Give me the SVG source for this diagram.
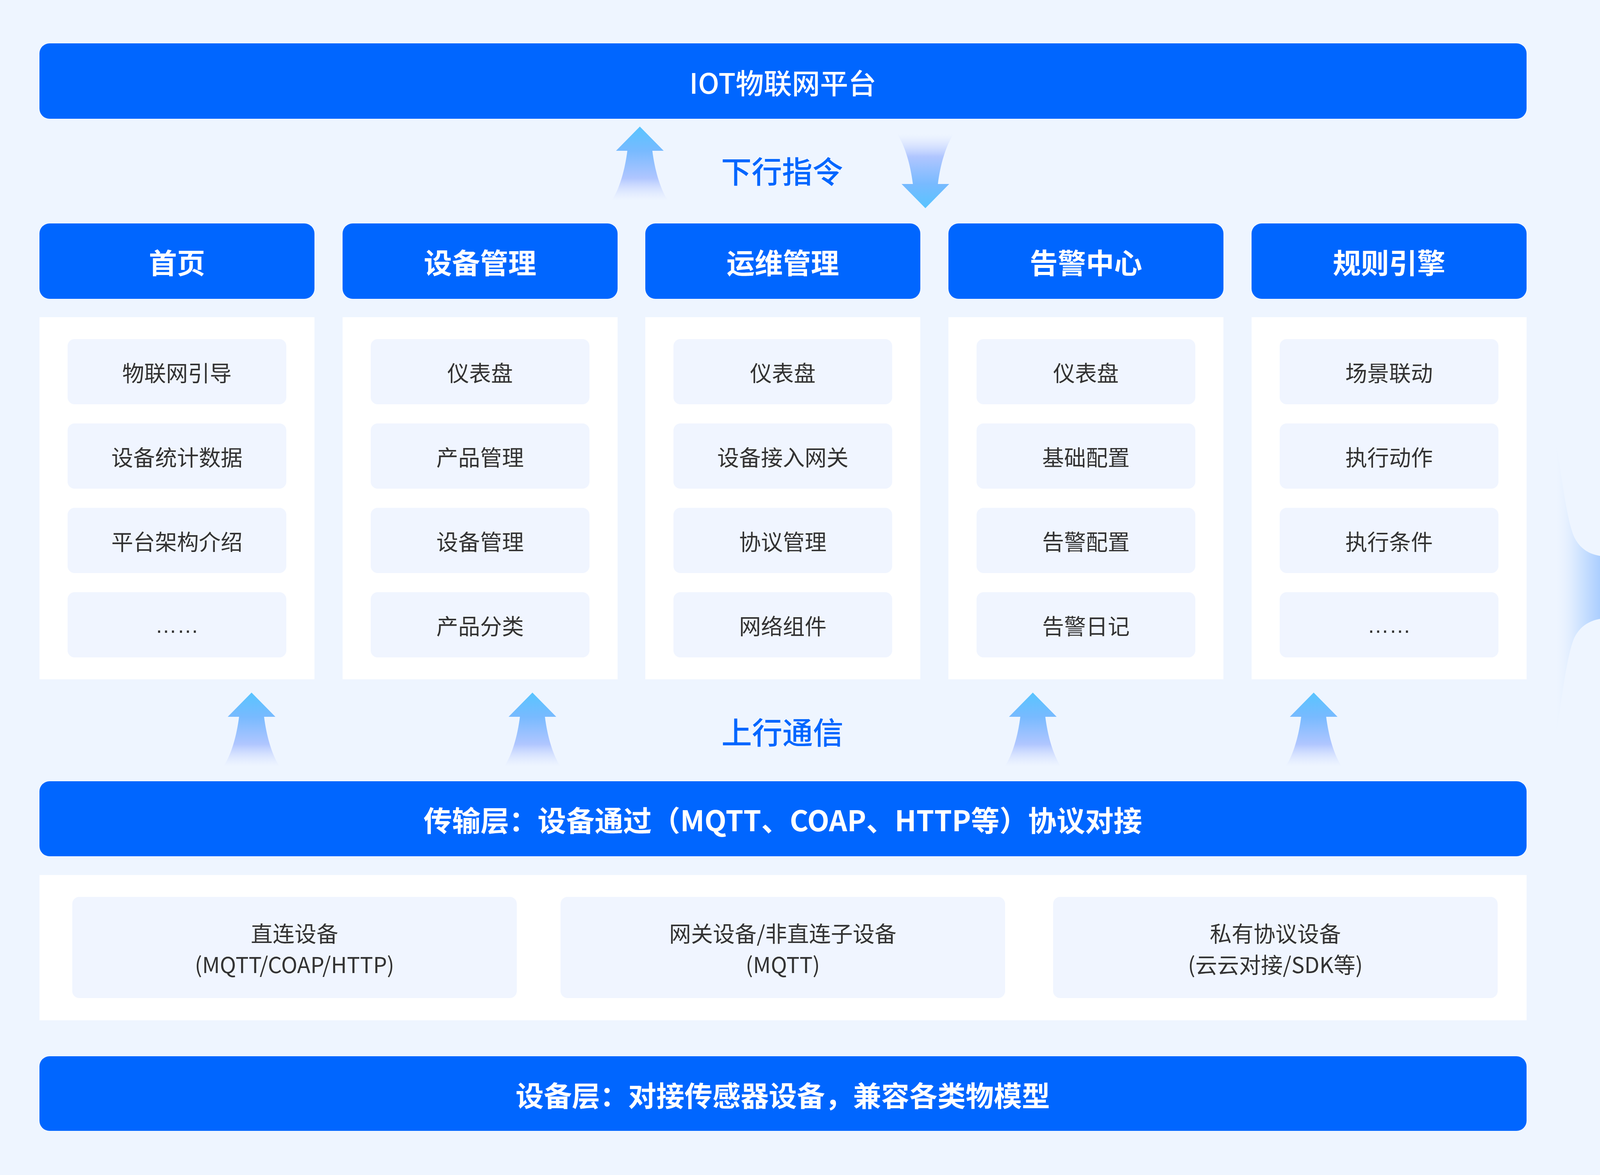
<svg xmlns="http://www.w3.org/2000/svg" xmlns:xlink="http://www.w3.org/1999/xlink" width="5124" height="3008" viewBox="0 0 5124 3008">
<defs>
<style>
.bg{fill:#EEF5FF}
.panel{fill:#FFFFFF}
.blue{fill:#0066FF}
.item{fill:#F0F5FF}
.t{font-family:"Noto Sans CJK SC","Liberation Sans",sans-serif;text-anchor:middle;dominant-baseline:central}
.hd{font-size:72px;font-weight:700;fill:#FFFFFF}
.top{font-size:72px;font-weight:500;fill:#FFFFFF}
.it{font-size:56px;font-weight:400;fill:#333333}
.dots{font-family:"Liberation Sans","Noto Sans CJK SC",sans-serif;font-size:56px;fill:#333333;text-anchor:middle}
.lbl{font-size:78px;font-weight:500;fill:#0066FF}
</style>
<linearGradient id="gUp" x1="0" y1="0" x2="0" y2="1">
<stop offset="0" stop-color="#58C4FF"/>
<stop offset="0.33" stop-color="#78BAFF"/>
<stop offset="0.7" stop-color="#B0C6FF"/>
<stop offset="1" stop-color="#D4DEFF" stop-opacity="0"/>
</linearGradient>
<linearGradient id="gRight" x1="0" y1="0" x2="1" y2="0">
<stop offset="0" stop-color="#E6F0FF" stop-opacity="0"/>
<stop offset="0.3" stop-color="#D2E5FF"/>
<stop offset="0.65" stop-color="#A2C9FF"/>
<stop offset="1" stop-color="#5AA6FF"/>
</linearGradient>
<path id="upArrow" d="M0,0 L61,62 L32,62 C38,110 52,160 72,189 L-72,189 C-52,160 -38,110 -32,62 L-61,62 Z" fill="url(#gUp)"/>
</defs>

<rect class="bg" x="0" y="0" width="5124" height="3008"/>

<g id="platform">
<rect class="blue" x="101" y="111" width="3807" height="193" rx="26"/>
<text class="t top" x="2004" y="208">IOT物联网平台</text>
</g>

<g id="connectors">
<use xlink:href="#upArrow" transform="translate(1638,324)"/>
<use xlink:href="#upArrow" transform="translate(2369,533) scale(1,-1)"/>
<use xlink:href="#upArrow" transform="translate(644,1773)"/>
<use xlink:href="#upArrow" transform="translate(1363,1773)"/>
<use xlink:href="#upArrow" transform="translate(2644,1773)"/>
<use xlink:href="#upArrow" transform="translate(3363,1773)"/>
<path d="M4114,1425 C4070,1423 4045,1405 4030,1375 C4010,1330 3995,1200 3982,1115 L3982,1900 C3995,1810 4010,1680 4030,1633 C4045,1603 4070,1585 4114,1582 L4114,1659 L4178,1504 L4114,1348 Z" fill="url(#gRight)"/>
<text class="t lbl" x="2002" y="435">下行指令</text>
<text class="t lbl" x="2003" y="1871">上行通信</text>
</g>

<g id="col-home">
<rect class="blue" x="101" y="572" width="704" height="193" rx="26"/>
<text class="t hd" x="453" y="668">首页</text>
<rect class="panel" x="101" y="812" width="704" height="927"/>
<rect class="item" x="173" y="868" width="560" height="167" rx="18"/>
<text class="t it" x="453" y="951">物联网引导</text>
<rect class="item" x="173" y="1084" width="560" height="167" rx="18"/>
<text class="t it" x="453" y="1167">设备统计数据</text>
<rect class="item" x="173" y="1300" width="560" height="167" rx="18"/>
<text class="t it" x="453" y="1383">平台架构介绍</text>
<rect class="item" x="173" y="1516" width="560" height="167" rx="18"/>
<text class="dots" x="453" y="1620">……</text>
</g>

<g id="col-device">
<rect class="blue" x="877" y="572" width="704" height="193" rx="26"/>
<text class="t hd" x="1229" y="668">设备管理</text>
<rect class="panel" x="877" y="812" width="704" height="927"/>
<rect class="item" x="949" y="868" width="560" height="167" rx="18"/>
<text class="t it" x="1229" y="951">仪表盘</text>
<rect class="item" x="949" y="1084" width="560" height="167" rx="18"/>
<text class="t it" x="1229" y="1167">产品管理</text>
<rect class="item" x="949" y="1300" width="560" height="167" rx="18"/>
<text class="t it" x="1229" y="1383">设备管理</text>
<rect class="item" x="949" y="1516" width="560" height="167" rx="18"/>
<text class="t it" x="1229" y="1599">产品分类</text>
</g>

<g id="col-ops">
<rect class="blue" x="1652" y="572" width="704" height="193" rx="26"/>
<text class="t hd" x="2004" y="668">运维管理</text>
<rect class="panel" x="1652" y="812" width="704" height="927"/>
<rect class="item" x="1724" y="868" width="560" height="167" rx="18"/>
<text class="t it" x="2004" y="951">仪表盘</text>
<rect class="item" x="1724" y="1084" width="560" height="167" rx="18"/>
<text class="t it" x="2004" y="1167">设备接入网关</text>
<rect class="item" x="1724" y="1300" width="560" height="167" rx="18"/>
<text class="t it" x="2004" y="1383">协议管理</text>
<rect class="item" x="1724" y="1516" width="560" height="167" rx="18"/>
<text class="t it" x="2004" y="1599">网络组件</text>
</g>

<g id="col-alarm">
<rect class="blue" x="2428" y="572" width="704" height="193" rx="26"/>
<text class="t hd" x="2780" y="668">告警中心</text>
<rect class="panel" x="2428" y="812" width="704" height="927"/>
<rect class="item" x="2500" y="868" width="560" height="167" rx="18"/>
<text class="t it" x="2780" y="951">仪表盘</text>
<rect class="item" x="2500" y="1084" width="560" height="167" rx="18"/>
<text class="t it" x="2780" y="1167">基础配置</text>
<rect class="item" x="2500" y="1300" width="560" height="167" rx="18"/>
<text class="t it" x="2780" y="1383">告警配置</text>
<rect class="item" x="2500" y="1516" width="560" height="167" rx="18"/>
<text class="t it" x="2780" y="1599">告警日记</text>
</g>

<g id="col-rules">
<rect class="blue" x="3204" y="572" width="704" height="193" rx="26"/>
<text class="t hd" x="3556" y="668">规则引擎</text>
<rect class="panel" x="3204" y="812" width="704" height="927"/>
<rect class="item" x="3276" y="868" width="560" height="167" rx="18"/>
<text class="t it" x="3556" y="951">场景联动</text>
<rect class="item" x="3276" y="1084" width="560" height="167" rx="18"/>
<text class="t it" x="3556" y="1167">执行动作</text>
<rect class="item" x="3276" y="1300" width="560" height="167" rx="18"/>
<text class="t it" x="3556" y="1383">执行条件</text>
<rect class="item" x="3276" y="1516" width="560" height="167" rx="18"/>
<text class="dots" x="3556" y="1620">……</text>
</g>

<g id="transport">
<rect class="blue" x="101" y="2000" width="3807" height="192" rx="26"/>
<text class="t hd" x="2004" y="2096" style="font-size:73px">传输层：设备通过（MQTT、COAP、HTTP等）协议对接</text>
</g>

<g id="devices">
<rect class="panel" x="101" y="2240" width="3807" height="372"/>
<g id="dev-direct">
<rect class="item" x="185" y="2296" width="1138" height="259" rx="18"/>
<text class="t it" x="754" y="2386">直连设备</text>
<text class="t it" x="754" y="2466">(MQTT/COAP/HTTP)</text>
</g>
<g id="dev-gateway">
<rect class="item" x="1435" y="2296" width="1138" height="259" rx="18"/>
<text class="t it" x="2004" y="2386">网关设备/非直连子设备</text>
<text class="t it" x="2004" y="2466">(MQTT)</text>
</g>
<g id="dev-private">
<rect class="item" x="2696" y="2296" width="1138" height="259" rx="18"/>
<text class="t it" x="3265" y="2386">私有协议设备</text>
<text class="t it" x="3265" y="2466">(云云对接/SDK等)</text>
</g>
</g>

<g id="device-layer">
<rect class="blue" x="101" y="2704" width="3807" height="191" rx="26"/>
<text class="t hd" x="2004" y="2800">设备层：对接传感器设备，兼容各类物模型</text>
</g>

<g id="industry">
<rect class="panel" x="4224" y="112" width="799" height="2784" rx="26"/>
<rect class="blue" x="4284" y="162" width="680" height="192" rx="26"/>
<text class="t hd" x="4624" y="258">行业应用</text>
<rect class="item" x="4344" y="454" width="560" height="280" rx="18"/>
<text class="t it" x="4624" y="594">智慧城市</text>
<rect class="item" x="4344" y="858" width="560" height="280" rx="18"/>
<text class="t it" x="4624" y="998">城市生命线</text>
<rect class="item" x="4344" y="1262" width="560" height="280" rx="18"/>
<text class="t it" x="4624" y="1402">智慧农业</text>
<rect class="item" x="4344" y="1666" width="560" height="280" rx="18"/>
<text class="t it" x="4624" y="1806">智慧园区</text>
<rect class="item" x="4344" y="2070" width="560" height="280" rx="18"/>
<text class="t it" x="4624" y="2210">智慧社区</text>
<rect class="item" x="4344" y="2474" width="560" height="280" rx="18"/>
<text class="t it" x="4624" y="2614">智慧物流</text>
</g>
</svg>
